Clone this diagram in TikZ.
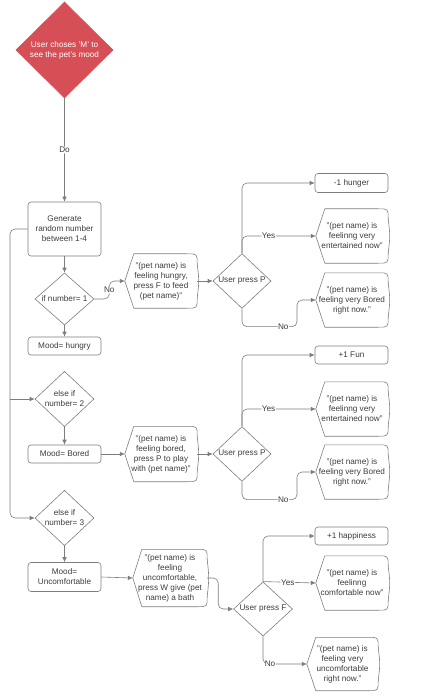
\documentclass[tikz,border=0pt]{standalone}
\usepackage{fontspec}
\setmainfont{Liberation Sans}
\usetikzlibrary{shapes.geometric,arrows.meta}
\definecolor{lcred}{RGB}{214,79,87}
\definecolor{lcline}{RGB}{125,125,125}
\definecolor{lctext}{RGB}{60,60,60}
\begin{document}
\begin{tikzpicture}[x=1pt,y=-1pt,
    >={Latex[length=5pt,width=4.5pt]},
    every node/.style={font=\fontsize{8.2}{10}\selectfont, text=lctext, align=center, inner sep=1pt},
    box/.style={draw=lcline, line width=0.6pt, rounded corners=3pt, minimum width=73pt},
    dia/.style={diamond, draw=lcline, line width=0.6pt, inner sep=0pt, minimum width=59pt, minimum height=52pt},
    disp/.style={minimum width=72pt, minimum height=54pt},
    conn/.style={draw=lcline, line width=0.6pt, rounded corners=5pt},
    lbl/.style={midway, fill=white, inner sep=0.5pt}]
      \useasboundingbox (0,0) rectangle (420,700);
      \node[dia, fill=lcred, draw=lcred, text=white, minimum width=97pt, minimum height=96pt] (S) at (64.5,50) {User choses 'M' to\\see the pet's mood};
      \node[box, minimum height=54pt] (G) at (64.5,229) {Generate\\random number\\between 1-4};
      \node[dia] (D1) at (64.5,299) {if number= 1};
      \node[box, minimum height=18pt] (M1) at (64.5,346) {Mood= hungry};
      \node[dia] (D2) at (64.5,399) {else if\\number= 2};
      \node[box, minimum height=18pt] (M2) at (64.5,454) {Mood= Bored};
      \node[dia] (D3) at (64.5,518) {else if\\number= 3};
      \node[box, minimum height=29pt] (M3) at (64.5,577) {Mood=\\Uncomfortable};
      \node[disp] (H1) at (161,281) {"(pet name) is\\feeling hungry,\\press F to feed\\(pet name)"};
      \node[dia, minimum width=58pt, minimum height=51pt] (P1) at (242,281) {User press P};
      \node[box, minimum height=19pt] (A1) at (351.5,183) {-1 hunger};
      \node[disp] (Y1) at (352,236) {"(pet name) is\\feelinng very\\entertained now"};
      \node[disp] (N1) at (352,300) {"(pet name) is\\feeling very Bored\\right now."};
      \node[disp, minimum height=55pt] (H2) at (161,454) {"(pet name) is\\feeling bored,\\press P to play\\with (pet name)"};
      \node[dia, minimum width=58pt, minimum height=52pt] (P2) at (242,454) {User press P};
      \node[box, minimum height=18pt] (A2) at (351.5,355) {+1 Fun};
      \node[disp] (Y2) at (352,409) {"(pet name) is\\feelinng very\\entertained now"};
      \node[disp] (N2) at (352,472) {"(pet name) is\\feeling very Bored\\right now."};
      \node[disp, minimum width=74pt, minimum height=57pt] (H3) at (170,578) {"(pet name) is\\feeling\\uncomfortable,\\press W give (pet\\name) a bath};
      \node[dia] (PF) at (263,609) {User press F};
      \node[box, minimum height=18pt] (A3) at (351.5,536) {+1 happiness};
      \node[disp] (Y3) at (352,583) {"(pet name) is\\feelinng\\comfortable now"};
      \node[disp, minimum width=71pt, minimum height=53pt] (N3) at (342.5,664) {"(pet name) is\\feeling very\\uncomfortable\\right now."};
      \coordinate (J) at (10,399);
      \foreach \n in {H1,Y1,N1,H2,Y2,N2,H3,Y3,N3}
        \draw[draw=lcline, line width=0.6pt] (\n.west) -- ([xshift=9pt]\n.north west) -- ([xshift=-10pt]\n.north east) .. controls (\n.north east) .. ([yshift=-10pt]\n.north east) .. controls ([xshift=2pt]\n.east) .. ([yshift=10pt]\n.south east) .. controls (\n.south east) .. ([xshift=-10pt]\n.south east) -- ([xshift=9pt]\n.south west) -- cycle;
      \draw[->, conn] (S.south) -- (G.north) node[lbl] {Do};
      \draw[->, conn] (G.south) -- (D1.north);
      \draw[->, conn] (D1.south) -- (M1.north);
      \draw[->, conn] (D2.south) -- (M2.north);
      \draw[->, conn] (D3.south) -- (M3.north);
      \draw[->, conn] (G.west) -| (J) |- (D3.west);
      \draw[->, conn] (J) -- (D2.west);
      \draw[->, conn] (D1.east) -- ++(15,0) |- (H1.west) node[lbl, pos=0.25] {No};
      \draw[->, conn] (H1.east) -- (P1.west);
      \draw[->, conn] (P1.north) |- (A1.west);
      \draw[->, conn] (P1.north) |- (Y1.west) node[lbl, pos=0.68] {Yes};
      \draw[->, conn] (P1.south) -- ++(0,18) -- ++(55,0) node[lbl, pos=0.75] {No} |- (N1.west);
      \draw[->, conn] (M2.east) -- (H2.west);
      \draw[->, conn] (H2.east) -- (P2.west);
      \draw[->, conn] (P2.north) |- (A2.west);
      \draw[->, conn] (P2.north) |- (Y2.west) node[lbl, pos=0.68] {Yes};
      \draw[->, conn] (P2.south) -- ++(0,18) -- ++(55,0) node[lbl, pos=0.75] {No} |- (N2.west);
      \draw[->, conn] (M3.east) -- (H3.west);
      \draw[->, conn] (H3.east) -- ++(11,0) |- (PF.west);
      \draw[->, conn] (PF.north) |- (A3.west);
      \draw[->, conn] (PF.north) -- (Y3.west) node[lbl, pos=0.47] {Yes};
      \draw[->, conn] (PF.south) |- (N3.west) node[lbl, pos=0.58] {No};
    \end{tikzpicture}
\end{document}
